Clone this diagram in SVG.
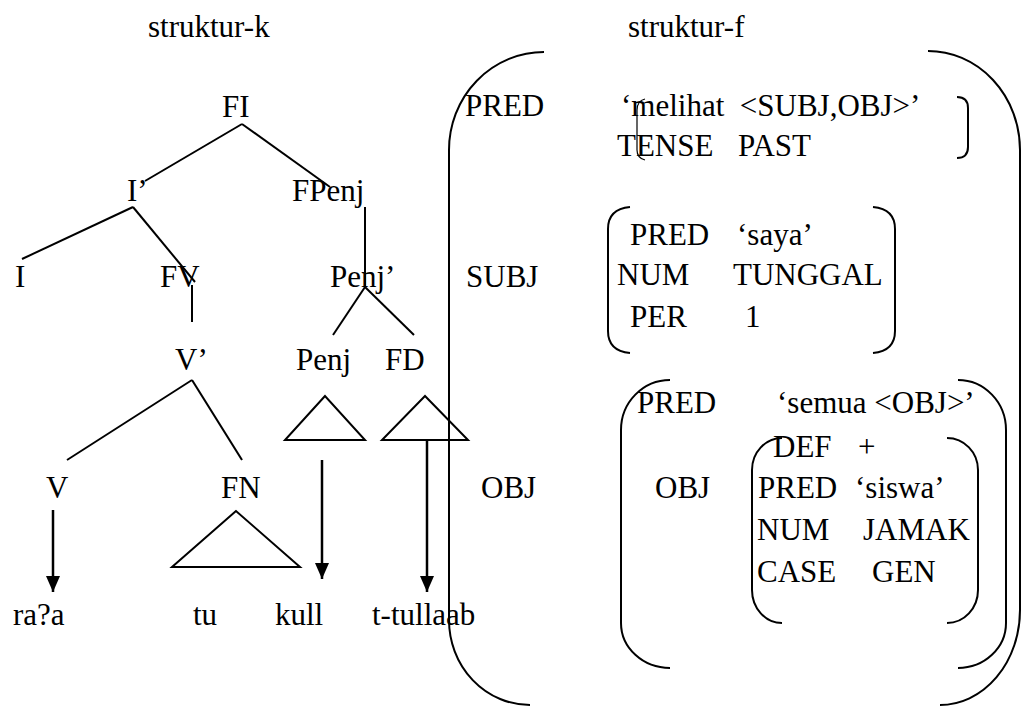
<svg xmlns="http://www.w3.org/2000/svg" width="1022" height="706" viewBox="0 0 1022 706">
  <style>
    text { font-family: 'Liberation Serif', serif; font-size: 31px; fill: #000; }
    .ln { stroke: #000; stroke-width: 2; fill: none; }
    .br { stroke: #000; stroke-width: 2; fill: none; }
    .thin { stroke: #000; stroke-width: 1.2; fill: none; }
    .arr { stroke: #000; stroke-width: 2.5; fill: none; marker-end: url(#head); }
  </style>
  <defs>
    <marker id="head" markerUnits="userSpaceOnUse" viewBox="0 0 16 14" refX="16" refY="7" markerWidth="16" markerHeight="14" orient="auto">
      <path d="M0,0 L16,7 L0,14 Z" fill="#000"/>
    </marker>
  </defs>
  <rect width="1022" height="706" fill="#fff"/>

  <g font-family="Liberation Serif, serif">
  <!-- headings -->
  <g id="title-k"><text x="148" y="37">struktur-k</text></g>
  <g id="title-f"><text x="628" y="37">struktur-f</text></g>

  <!-- c-structure tree -->
  <g id="node-FI"><text x="222" y="117">FI</text></g>
  <g id="node-Ibar"><text x="127" y="201">I’</text></g>
  <g id="node-FPenj"><text x="292" y="201">FPenj</text></g>
  <g id="node-I"><text x="15" y="287">I</text></g>
  <g id="node-FV"><text x="160" y="287">FV</text></g>
  <g id="node-Penjbar"><text x="330" y="287">Penj’</text></g>
  <g id="node-Vbar"><text x="175" y="370">V’</text></g>
  <g id="node-Penj"><text x="296" y="370">Penj</text></g>
  <g id="node-FD"><text x="385" y="370">FD</text></g>
  <g id="node-V"><text x="46" y="498">V</text></g>
  <g id="node-FN"><text x="221" y="498">FN</text></g>
  <g id="word-ra2a"><text x="13" y="625">ra?a</text></g>
  <g id="word-tu"><text x="193" y="625">tu</text></g>
  <g id="word-kull"><text x="275" y="625">kull</text></g>
  <g id="word-ttullaab"><text x="372" y="625">t-tullaab</text></g>
  </g>

  <g id="connectors">
    <line class="ln" x1="242" y1="124" x2="145" y2="181"/>
    <line class="ln" x1="242" y1="124" x2="330" y2="187"/>
    <line class="ln" x1="133" y1="207" x2="22" y2="259"/>
    <line class="ln" x1="133" y1="207" x2="195" y2="282"/>
    <line class="ln" x1="192" y1="285" x2="192" y2="322"/>
    <line class="ln" x1="365" y1="207" x2="365" y2="287"/>
    <line class="ln" x1="365" y1="287" x2="333" y2="335"/>
    <line class="ln" x1="365" y1="287" x2="414" y2="335"/>
    <line class="ln" x1="192" y1="380" x2="67" y2="460"/>
    <line class="ln" x1="192" y1="380" x2="242" y2="460"/>
    <!-- roof triangles -->
    <polygon class="ln" points="325,396 285,440 365,440"/>
    <polygon class="ln" points="425,396 382,440 468,440"/>
    <polygon class="ln" points="236,511 172,567 300,567"/>
    <!-- arrows to the words -->
    <line class="arr" x1="53" y1="510" x2="53" y2="592"/>
    <line class="arr" x1="322" y1="460" x2="322" y2="579"/>
    <line class="arr" x1="427" y1="440" x2="427" y2="592"/>
  </g>

  <!-- f-structure: outer matrix -->
  <g id="fs-outer">
    <path class="br" d="M544,52 A95,98 0 0 0 449,150 L449,620 A81,85 0 0 0 530,705"/>
    <path class="br" d="M928,51 A92,99 0 0 1 1020,150 L1020,610 A80,95 0 0 1 940,705"/>
  </g>

  <g id="fs-pred" font-family="Liberation Serif, serif">
    <text x="465" y="116">PRED</text>
    <text x="621" y="116" xml:space="preserve">‘melihat  &lt;SUBJ,OBJ&gt;’</text>
    <text x="617" y="156">TENSE</text>
    <text x="738" y="156">PAST</text>
    <path class="thin" d="M645,99 Q637,101 637,110 L637,150 Q637,158 645,160"/>
    <path class="br" d="M957,97 Q968,97 968,108 L968,147 Q968,158 957,158"/>
  </g>

  <g id="fs-subj" font-family="Liberation Serif, serif">
    <text x="466" y="287">SUBJ</text>
    <path class="br" d="M630,207 Q608,209 608,229 L608,331 Q608,351 630,353"/>
    <path class="br" d="M873,207 Q895,209 895,229 L895,331 Q895,351 873,353"/>
    <text x="630" y="245">PRED</text>
    <text x="737" y="245">‘saya’</text>
    <text x="617" y="285">NUM</text>
    <text x="733" y="285">TUNGGAL</text>
    <text x="630" y="327">PER</text>
    <text x="745" y="327">1</text>
  </g>

  <g id="fs-obj" font-family="Liberation Serif, serif">
    <text x="481" y="498">OBJ</text>
    <path class="br" d="M670,380 A49,50 0 0 0 621,430 L621,623 A49,45 0 0 0 670,668"/>
    <path class="br" d="M958,380 A48,50 0 0 1 1006,430 L1006,623 A48,45 0 0 1 958,668"/>
    <text x="637" y="413">PRED</text>
    <text x="777" y="413">‘semua &lt;OBJ&gt;’</text>
    <text x="655" y="498">OBJ</text>
  </g>

  <g id="fs-obj-inner" font-family="Liberation Serif, serif">
    <path class="br" d="M782,438 A30,32 0 0 0 752,470 L752,590 A30,33 0 0 0 782,623"/>
    <path class="br" d="M947,438 A31,32 0 0 1 978,470 L978,590 A31,33 0 0 1 947,623"/>
    <text x="773" y="457">DEF</text>
    <text x="858" y="457">+</text>
    <text x="758" y="498">PRED</text>
    <text x="855" y="498">‘siswa’</text>
    <text x="757" y="540">NUM</text>
    <text x="863" y="540">JAMAK</text>
    <text x="757" y="582">CASE</text>
    <text x="872" y="582">GEN</text>
  </g>
</svg>
